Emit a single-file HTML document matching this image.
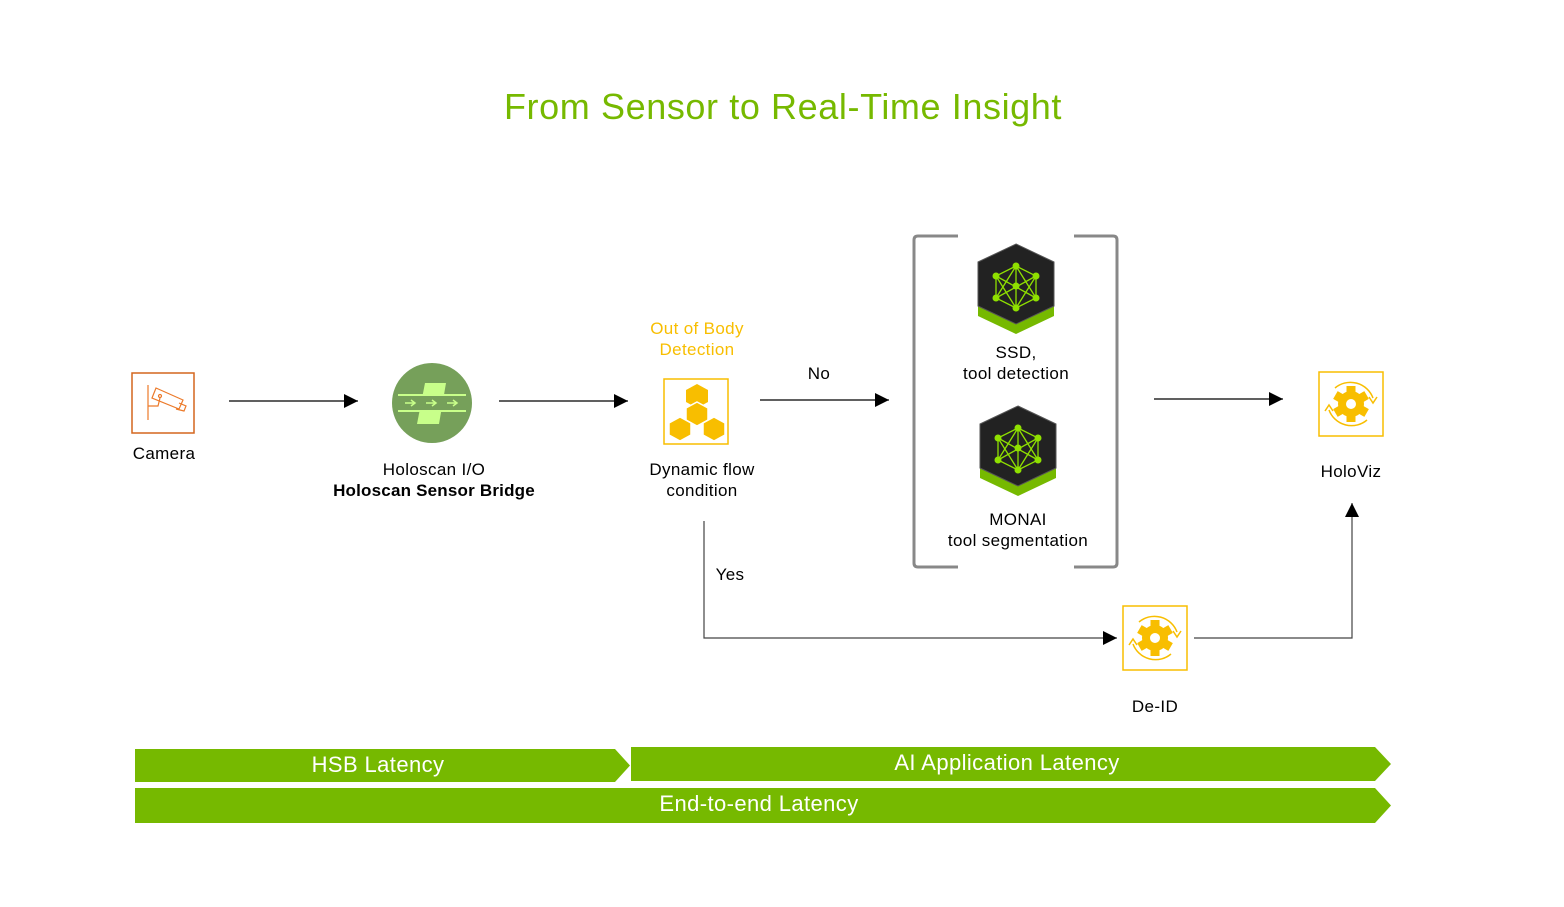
<!DOCTYPE html>
<html><head><meta charset="utf-8"><style>
html,body{margin:0;padding:0;background:#fff;}
svg{display:block;font-family:"Liberation Sans","DejaVu Sans",sans-serif;}
.l{letter-spacing:0.35px;}
</style></head><body>
<svg width="1564" height="907" viewBox="0 0 1564 907" xmlns="http://www.w3.org/2000/svg">
<defs>
<marker id="ar" viewBox="0 0 10 10" refX="10" refY="5" markerWidth="14" markerHeight="14" markerUnits="userSpaceOnUse" orient="auto"><path d="M0,0L10,5L0,10z" fill="#000"/></marker>
<g id="gear">
<rect x="-32" y="-32" width="64" height="64" fill="#fff" stroke="#f8be00" stroke-width="1.5"/>
<g fill="#f8be00">
<circle r="13"/>
<rect x="-4.5" y="-18" width="9" height="36"/>
<rect x="-4.5" y="-18" width="9" height="36" transform="rotate(60)"/>
<rect x="-4.5" y="-18" width="9" height="36" transform="rotate(120)"/>
</g>
<circle r="5" fill="#fff"/>
<path d="M-16,-16 A24,24 0 0 1 22,-6" fill="none" stroke="#f8be00" stroke-width="1.5"/>
<path d="M16,16 A24,24 0 0 1 -22,6" fill="none" stroke="#f8be00" stroke-width="1.5"/>
<path d="M18,-7 L22,-1 L26,-7" fill="none" stroke="#f8be00" stroke-width="1.5"/>
<path d="M-18,7 L-22,1 L-26,7" fill="none" stroke="#f8be00" stroke-width="1.5"/>
</g>
<g id="cube">
<path d="M0,-38 L38,-20 L38,30 L0,48 L-38,30 L-38,-20Z" fill="#76b900"/>
<path d="M0,-42 L38,-24 L38,20 L0,38 L-38,20 L-38,-24Z" fill="#222" stroke="#555" stroke-width="1"/>
<g stroke="#8fe000" stroke-width="1.3" fill="none">
<path d="M0,-20 L-20,-10 L-20,12 L0,22 L20,12 L20,-10Z M0,-20 L0,22 M-20,-10 L20,12 M20,-10 L-20,12 M0,-20 L-20,12 M0,-20 L20,12 M-20,-10 L0,22 M20,-10 L0,22"/>
</g>
<g fill="#8fe000"><circle cx="0" cy="-20" r="3.5"/><circle cx="-20" cy="-10" r="3.5"/><circle cx="20" cy="-10" r="3.5"/><circle cx="0" cy="0" r="3.5"/><circle cx="-20" cy="12" r="3.5"/><circle cx="20" cy="12" r="3.5"/><circle cx="0" cy="22" r="3.5"/></g>
</g>
</defs>

<text x="783" y="119" text-anchor="middle" font-size="36" fill="#76b900" letter-spacing="0.6">From Sensor to Real-Time Insight</text>

<!-- Camera -->
<rect x="132" y="373" width="62" height="60" fill="#fff" stroke="#d4661e" stroke-width="1.5"/>
<g stroke="#ec7a2a" stroke-width="1.2" fill="none">
<path d="M148,385 L148,420 M148,406 L158,406 L160,398"/>
<path d="M152,398 L156,388 L183,400 L179,409Z M179,403 L186,406 L184,411 L176,409"/>
<circle cx="160" cy="396" r="1.5"/>
</g>
<text class="l" x="164" y="459" text-anchor="middle" font-size="17">Camera</text>

<!-- Holoscan -->
<circle cx="432" cy="403" r="40" fill="#76a05a"/>
<path d="M425,383 L446,383 L439,424 L417,424Z" fill="#c8ff8a"/>
<rect x="398" y="396" width="68" height="14" fill="#76a05a"/>
<rect x="398" y="394" width="68" height="2" fill="#c8ff8a"/>
<rect x="398" y="410" width="68" height="2" fill="#c8ff8a"/>
<g stroke="#c8ff8a" stroke-width="1.5" fill="none"><path d="M405,403h10m-4,-3l4,3l-4,3 M426,403h10m-4,-3l4,3l-4,3 M447,403h10m-4,-3l4,3l-4,3"/></g>
<text class="l" x="434" y="475" text-anchor="middle" font-size="17">Holoscan I/O</text>
<text x="434" y="496" text-anchor="middle" font-size="17" font-weight="bold" letter-spacing="0.2">Holoscan Sensor Bridge</text>

<!-- Dynamic flow -->
<text class="l" x="697" y="334" text-anchor="middle" font-size="17" fill="#f8be00">Out of Body</text>
<text class="l" x="697" y="355" text-anchor="middle" font-size="17" fill="#f8be00">Detection</text>
<rect x="664" y="379" width="64" height="65" fill="#fff" stroke="#f8be00" stroke-width="1.5"/>
<g fill="#f8be00">
<path d="M697,384 l11,6 v12 l-11,6 l-11,-6 v-12z"/>
<path d="M697,402 l11,6 v12 l-11,6 l-11,-6 v-12z" stroke="#fff" stroke-width="1.5"/>
<path d="M680,417 l11,6 v12 l-11,6 l-11,-6 v-12z" stroke="#fff" stroke-width="1.5"/>
<path d="M714,417 l11,6 v12 l-11,6 l-11,-6 v-12z" stroke="#fff" stroke-width="1.5"/>
</g>
<text class="l" x="702" y="475" text-anchor="middle" font-size="17">Dynamic flow</text>
<text class="l" x="702" y="496" text-anchor="middle" font-size="17">condition</text>

<!-- Arrows -->
<g stroke="#000" stroke-width="1.2" fill="none" marker-end="url(#ar)">
<line x1="229" y1="401" x2="358" y2="401"/>
<line x1="499" y1="401" x2="628" y2="401"/>
<line x1="760" y1="400" x2="889" y2="400"/>
<line x1="1154" y1="399" x2="1283" y2="399"/>
<polyline points="704,521 704,638 1117,638" stroke="#444"/>
<polyline points="1194,638 1352,638 1352,503" stroke="#444"/>
</g>
<text class="l" x="819" y="379" text-anchor="middle" font-size="17">No</text>
<text class="l" x="730" y="580" text-anchor="middle" font-size="17">Yes</text>

<!-- Bracket -->
<g stroke="#888" stroke-width="3" fill="none">
<path d="M958,236 L918,236 Q914,236 914,240 L914,563 Q914,567 918,567 L958,567"/>
<path d="M1074,236 L1113,236 Q1117,236 1117,240 L1117,563 Q1117,567 1113,567 L1074,567"/>
</g>
<use href="#cube" x="1016" y="286"/>
<text class="l" x="1016" y="358" text-anchor="middle" font-size="17">SSD,</text>
<text class="l" x="1016" y="379" text-anchor="middle" font-size="17">tool detection</text>
<use href="#cube" x="1018" y="448"/>
<text class="l" x="1018" y="525" text-anchor="middle" font-size="17">MONAI</text>
<text class="l" x="1018" y="546" text-anchor="middle" font-size="17">tool segmentation</text>

<!-- HoloViz, De-ID -->
<use href="#gear" x="1351" y="404"/>
<text class="l" x="1351" y="477" text-anchor="middle" font-size="17">HoloViz</text>
<use href="#gear" x="1155" y="638"/>
<text class="l" x="1155" y="712" text-anchor="middle" font-size="17">De-ID</text>

<!-- Bars -->
<path d="M135,749 L615,749 L630,765.5 L615,782 L135,782Z" fill="#76b900"/>
<text x="378" y="772" text-anchor="middle" font-size="22" fill="#fff" letter-spacing="0.4">HSB Latency</text>
<path d="M631,747 L1375,747 L1391,764 L1375,781 L631,781Z" fill="#76b900"/>
<text x="1007" y="770" text-anchor="middle" font-size="22" fill="#fff" letter-spacing="0.4">AI Application Latency</text>
<path d="M135,788 L1375,788 L1391,805.5 L1375,823 L135,823Z" fill="#76b900"/>
<text x="759" y="811" text-anchor="middle" font-size="22" fill="#fff" letter-spacing="0.4">End-to-end Latency</text>
</svg>
</body></html>
